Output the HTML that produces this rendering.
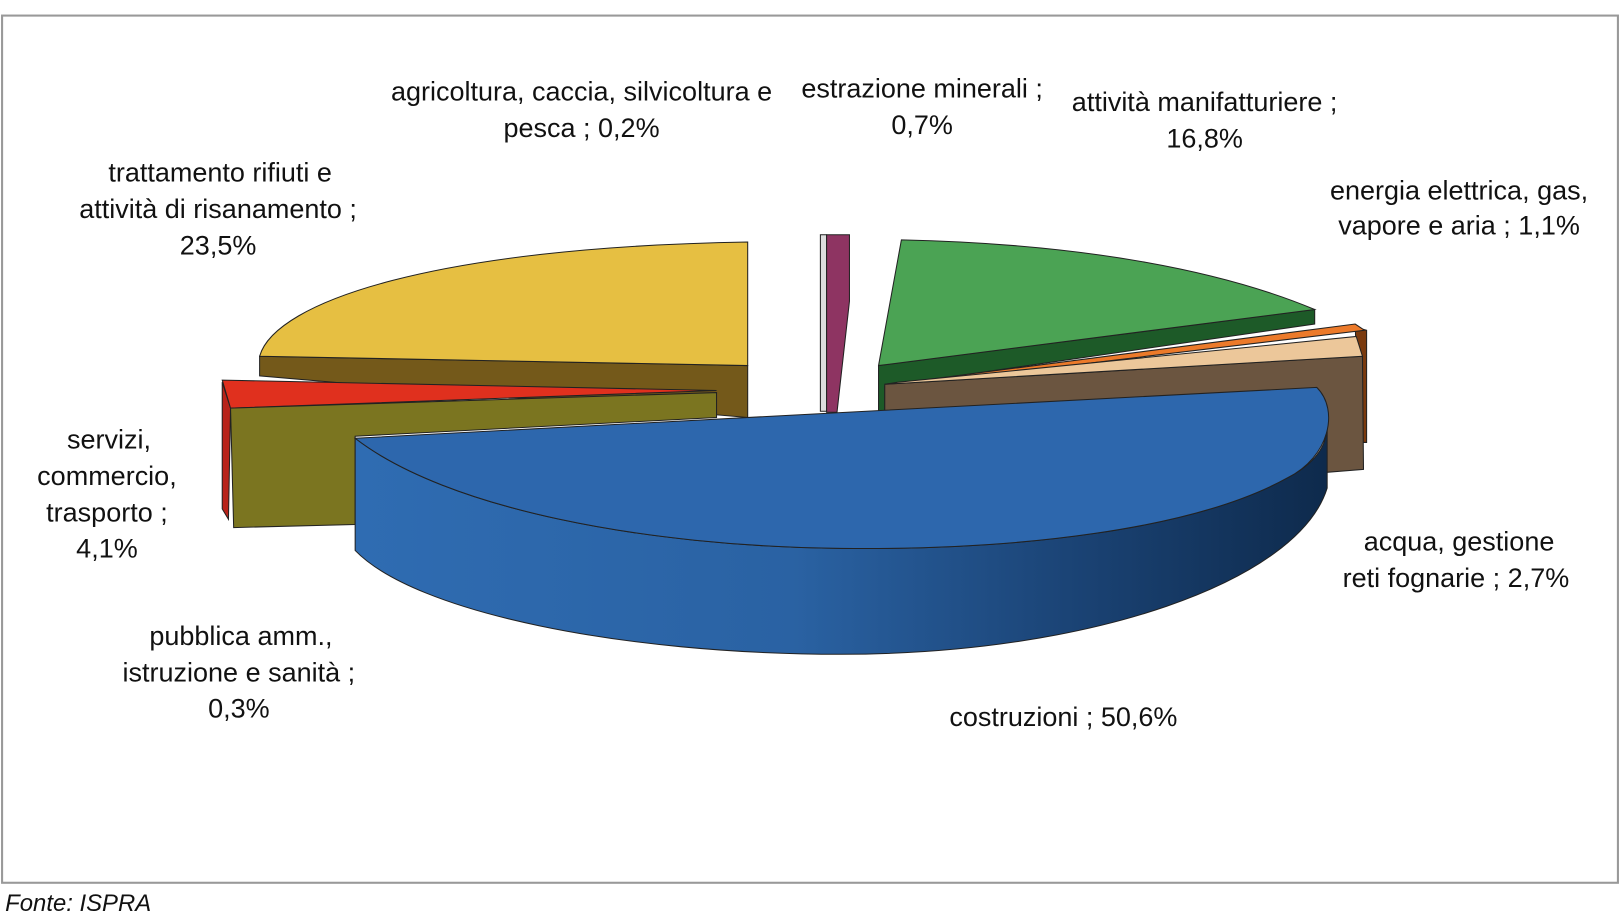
<!DOCTYPE html>
<html><head><meta charset="utf-8"><style>
html,body{margin:0;padding:0;background:#fff}
svg{display:block}
text{font-family:"Liberation Sans",sans-serif;font-size:26px;fill:#111;text-anchor:middle}
</style></head><body>
<svg width="1620" height="916" viewBox="0 0 1560 882" preserveAspectRatio="none" xmlns="http://www.w3.org/2000/svg">
<defs>
<linearGradient id="bs" x1="0" x2="1" y1="0" y2="0">
<stop offset="0" stop-color="#2f6cb2"/><stop offset="0.45" stop-color="#2a62a3"/><stop offset="0.75" stop-color="#1a4273"/><stop offset="1" stop-color="#0e2a4c"/>
</linearGradient>
</defs>
<rect x="2" y="15" width="1556" height="835" fill="#fff" stroke="#999" stroke-width="2"/>
<g stroke="#222" stroke-width="1">
<path d="M250,343 L720,352 L720,402 L250,362 Z" fill="#74591a"/>
<path d="M720,233 L720,352 L250,343 C265,290 420,238 720,233 Z" fill="#e6bf42"/>
<path d="M214,368 L222,393 L220,500 L214,490 Z" fill="#b8231a"/>
<path d="M214,366 L690,376 L222,393 Z" fill="#e0301e"/>
<path d="M222,393 L690,378 L690,402 L342,420 L342,505 L225,508 Z" fill="#7b7520"/>
<path d="M790,226 L796,226 L796,396 L790,396 Z" fill="#ddd"/>
<path d="M796,226 L818,226 L818,290 L806,397 L796,397 Z" fill="#8e3462"/>
<path d="M846,352 L1266,298 L1266,312 L852,372 L852,408 L846,408 Z" fill="#1d5a28"/>
<path d="M868,231 C1050,235 1180,262 1266,298 L846,352 Z" fill="#4ba354"/>
<path d="M1305,315 L1316,318 L1316,426 L1310,426 Z" fill="#7a3a0e"/>
<path d="M858,370 L1305,312 L1314,318 L870,371 Z" fill="#ec7a2a"/>
<path d="M852,370 L1312,343 L1313,452 L1275,455 L1275,400 L852,398 Z" fill="#6b5540"/>
<path d="M865,368 L1306,324 L1312,343 L852,370 Z" fill="#ecc79a"/>
<path d="M342,422 C430,490 620,526 810,528 C980,530 1150,510 1240,460 C1265,447 1278,430 1278,410 L1278,470 C1250,560 1050,630 810,630 C600,630 400,590 342,530 Z" fill="url(#bs)"/>
<path d="M342,422 L1268,373 C1290,395 1280,440 1240,460 C1150,510 980,530 810,528 C620,526 430,490 342,422 Z" fill="#2d67ad"/>
</g>
<text x="560" y="97">agricoltura, caccia, silvicoltura e</text>
<text x="560" y="132">pesca ; 0,2%</text>
<text x="888" y="94">estrazione minerali ;</text>
<text x="888" y="129">0,7%</text>
<text x="1160" y="107">attività manifatturiere ;</text>
<text x="1160" y="142">16,8%</text>
<text x="1405" y="192">energia elettrica, gas,</text>
<text x="1405" y="226">vapore e aria ; 1,1%</text>
<text x="212" y="175">trattamento rifiuti e</text>
<text x="210" y="210">attività di risanamento ;</text>
<text x="210" y="245">23,5%</text>
<text x="105" y="432">servizi,</text>
<text x="103" y="467">commercio,</text>
<text x="103" y="502">trasporto ;</text>
<text x="103" y="537">4,1%</text>
<text x="1405" y="530">acqua, gestione</text>
<text x="1402" y="565">reti fognarie ; 2,7%</text>
<text x="232" y="621">pubblica amm.,</text>
<text x="230" y="656">istruzione e sanità ;</text>
<text x="230" y="691">0,3%</text>
<text x="1024" y="699">costruzioni ; 50,6%</text>
<text x="5" y="877" style="text-anchor:start;font-style:italic;font-size:23px">Fonte: ISPRA</text>
</svg>
</body></html>
